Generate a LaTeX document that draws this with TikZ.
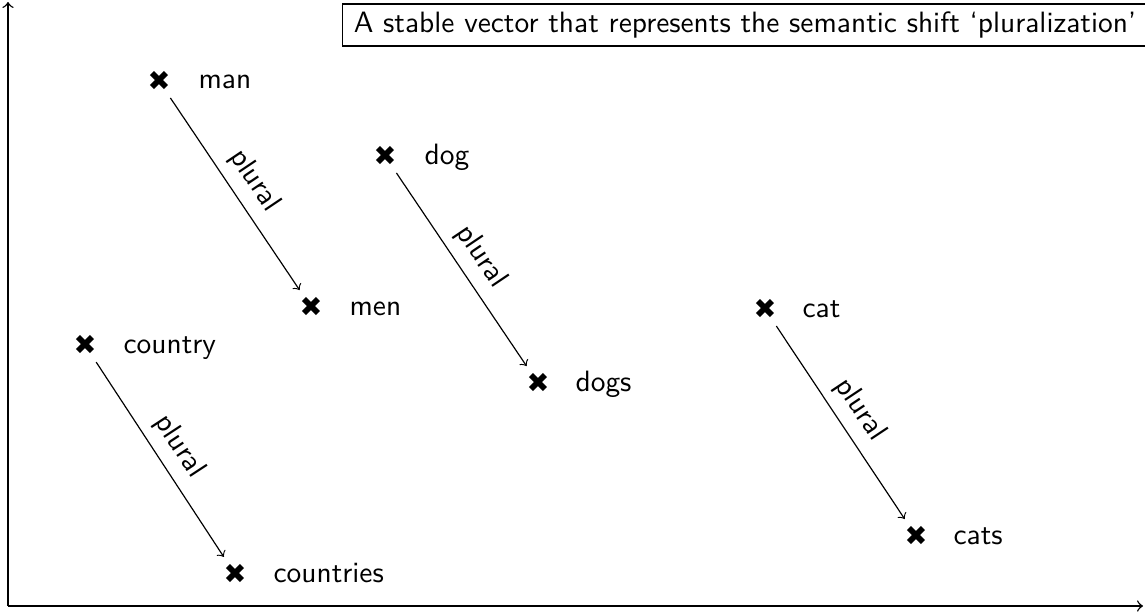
\documentclass[tikz,border=0pt]{standalone}
\usepackage{fontspec}
\newfontfamily\symfont{DejaVu Sans}
\begin{document}
\begin{tikzpicture}[x=0.34pt,y=-0.34pt,font=\sffamily,
  pt/.style={circle,inner sep=0pt,minimum size=13.5pt,font=\symfont\fontsize{9.3}{9.3}\selectfont},
  word/.style={anchor=base west,inner sep=0pt},
  vec/.style={->,>=to,line width=0.4pt},
  axis/.style={->,>=to,line width=0.5pt}]
\useasboundingbox (0,0) rectangle (1145,615);
% axes
\coordinate (O) at (8,606);
\coordinate (Y) at (8,2);
\coordinate (X) at (1143,606);
\draw[axis] (O) -- (Y);
\draw[axis] (O) -- (X);
% caption
\node[draw,line width=0.5pt,inner xsep=3.8pt,inner ysep=2.6pt] (cap) at (745,25) {A stable vector that represents the semantic shift `pluralization'};
% points
\node[pt] (man) at (159,81) {✖};
\node[pt] (men) at (311,307) {✖};
\node[pt] (dog) at (385,156) {✖};
\node[pt] (dogs) at (538,383) {✖};
\node[pt] (country) at (85,345) {✖};
\node[pt] (countries) at (235,574) {✖};
\node[pt] (cat) at (765,309) {✖};
\node[pt] (cats) at (916,536) {✖};
% labels
\node[word] (lman) at (198,88) {man};
\node[word] (lmen) at (349,315) {men};
\node[word] (ldog) at (424,164) {dog};
\node[word] (ldogs) at (575,391) {dogs};
\node[word] (lcountry) at (123,353) {country};
\node[word] (lcountries) at (273,582) {countries};
\node[word] (lcat) at (802,317) {cat};
\node[word] (lcats) at (953,544) {cats};
% vectors
\draw[vec] (man) -- (men) node[midway,sloped,above] {plural};
\draw[vec] (dog) -- (dogs) node[midway,sloped,above] {plural};
\draw[vec] (country) -- (countries) node[midway,sloped,above] {plural};
\draw[vec] (cat) -- (cats) node[midway,sloped,above] {plural};
\end{tikzpicture}
\end{document}
